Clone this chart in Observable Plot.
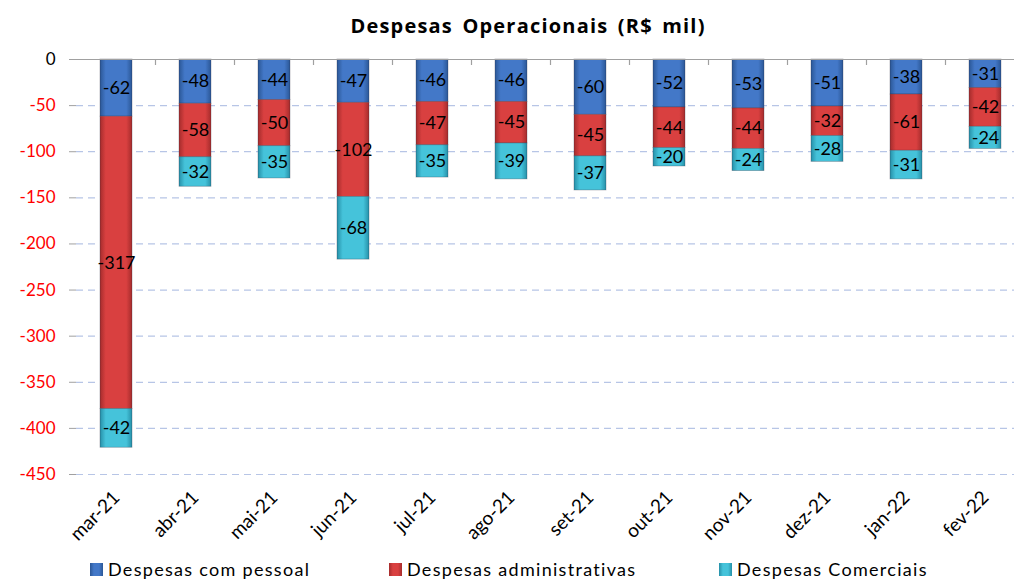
<!DOCTYPE html>
<html><head><meta charset="utf-8">
<script src="https://cdn.jsdelivr.net/npm/d3@7"></script>
<script src="https://cdn.jsdelivr.net/npm/@observablehq/plot@0.6"></script>
<style>
body{margin:0;background:#fff;font-family:Lato,"Open Sans",sans-serif;}
#wrap{width:1014px;height:579px;overflow:hidden;position:relative;}
#title{height:44px;line-height:52px;text-align:center;padding-left:42px;font-family:"Open Sans",sans-serif;font-weight:bold;font-size:20px;letter-spacing:1.2px;word-spacing:3px;color:#000;}
#legend{position:absolute;left:0;top:558px;width:1014px;height:24px;font-size:18px;letter-spacing:1.3px;color:#000;}
.li{position:absolute;top:0;display:flex;align-items:center;gap:5px;}
.sw{width:13px;height:13px;display:inline-block;}
</style></head>
<body><div id="wrap"><div id="title">Despesas Operacionais (R$ mil)</div><div id="chart"></div><div id="legend"></div></div>
<script>
const months = ["mar-21","abr-21","mai-21","jun-21","jul-21","ago-21","set-21","out-21","nov-21","dez-21","jan-22","fev-22"];
const series = ["Despesas com pessoal","Despesas administrativas","Despesas Comerciais"];
const pessoal = [-62,-48,-44,-47,-46,-46,-60,-52,-53,-51,-38,-31];
const administrativas = [-317,-58,-50,-102,-47,-45,-45,-44,-44,-32,-61,-42];
const comerciais = [-42,-32,-35,-68,-35,-39,-37,-20,-24,-28,-31,-24];
const yTicks = [0,-50,-100,-150,-200,-250,-300,-350,-400,-450];

const colorsMid = ["#4378c8","#d94040","#45c3da"];
const colorsEdge = ["#2b5796","#a52c2c","#2690a8"];
const gradIds = ["gPess","gAdm","gCom"];

const rows = [];
[pessoal, administrativas, comerciais].forEach((arr, si) => {
  arr.forEach((v, i) => rows.push({month: months[i], series: series[si], value: v}));
});

const plot = Plot.plot({
  width: 1014,
  height: 500,
  marginTop: 15,
  marginBottom: 70,
  marginLeft: 76,
  marginRight: 0,
  x: {domain: months, range: [76, 1025], paddingInner: 0.6, paddingOuter: 0.3, label: null},
  y: {domain: [-450, 0], label: null},
  color: {domain: series, range: gradIds.map(id => `url(#${id})`)},
  style: {fontFamily: "Lato, 'Open Sans', sans-serif", background: "white", overflow: "visible"},
  marks: [
    Plot.ruleY(yTicks.filter(d => d < 0), {stroke: "#b7c5e6", strokeDasharray: "7,5", strokeWidth: 1.2}),
    Plot.barY(rows, Plot.stackY({x: "month", y: "value", fill: "series", z: "series", order: series, stroke: "rgba(40,40,60,0.35)", strokeWidth: 0.8})),
    Plot.text(rows, Plot.stackY({x: "month", y: "value", z: "series", order: series, text: d => String(d.value), fontSize: 18, fill: "#000"})),
    Plot.ruleY([0], {stroke: "#a0a0a0", strokeWidth: 1.2}),
    Plot.axisY({ticks: yTicks, tickSize: 7, tickFormat: () => null, stroke: "#a0a0a0", line: true, label: null}),
    Plot.text(yTicks, {y: d => d, frameAnchor: "left", dx: -21, textAnchor: "end", text: d => String(d), fontSize: 17, fill: d => d < 0 ? "#ff0000" : "#000"}),
    Plot.axisX({anchor: "bottom", tickSize: 0, tickRotate: -45, tickPadding: 20, fontSize: 19, label: null})
  ]
});

// gradients
const svg = d3.select(plot);
const defs = svg.insert("defs", ":first-child");
gradIds.forEach((id, i) => {
  const g = defs.append("linearGradient").attr("id", id).attr("x1", "0").attr("x2", "1").attr("y1", "0").attr("y2", "0");
  g.append("stop").attr("offset", "0%").attr("stop-color", colorsEdge[i]);
  g.append("stop").attr("offset", "18%").attr("stop-color", colorsMid[i]);
  g.append("stop").attr("offset", "82%").attr("stop-color", colorsMid[i]);
  g.append("stop").attr("offset", "100%").attr("stop-color", colorsEdge[i]);
});

// category separator ticks at top axis, through the x scale
const xs = plot.scale("x");
const step = xs.step;
const yScale = plot.scale("y");
const y0 = yScale.apply(0);
const tg = svg.append("g").attr("stroke", "#a0a0a0").attr("stroke-width", 1.2);
months.forEach(m => {
  const xb = xs.apply(m) + xs.bandwidth + (step - xs.bandwidth) / 2;
  tg.append("line").attr("x1", xb).attr("x2", xb).attr("y1", y0).attr("y2", y0 + 6);
});

document.getElementById("chart").appendChild(plot);

// legend
const legendX = [90, 389, 719];
const leg = document.getElementById("legend");
series.forEach((s, i) => {
  const el = document.createElement("div");
  el.className = "li";
  el.style.left = legendX[i] + "px";
  el.innerHTML = `<span class="sw" style="background:linear-gradient(to right, ${colorsEdge[i]}, ${colorsMid[i]} 30%, ${colorsMid[i]} 70%, ${colorsEdge[i]})"></span><span>${s}</span>`;
  leg.appendChild(el);
});
</script></body></html>
